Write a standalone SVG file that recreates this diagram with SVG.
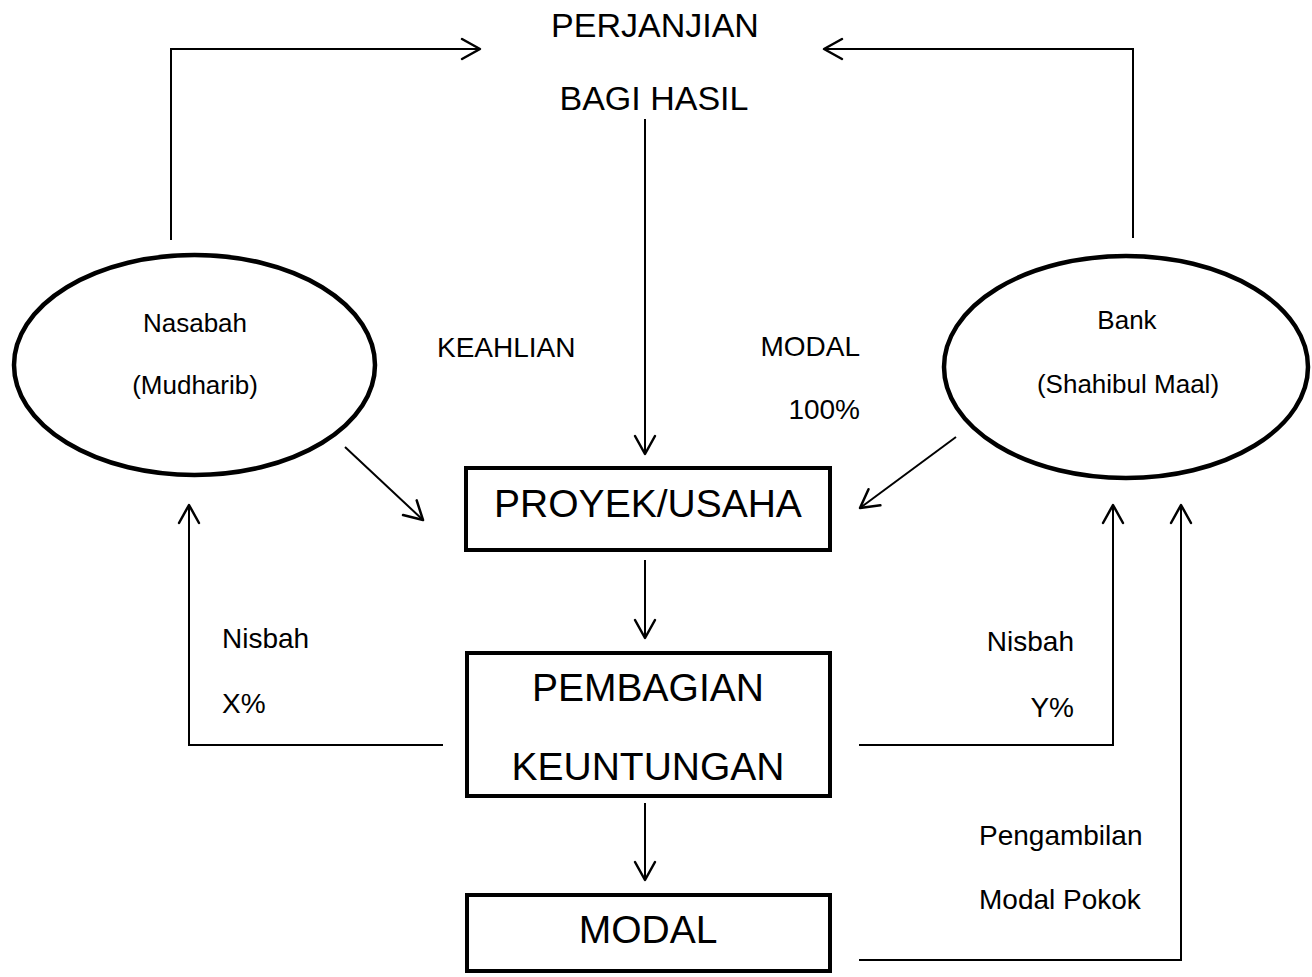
<svg xmlns="http://www.w3.org/2000/svg" width="1312" height="977" viewBox="0 0 1312 977">
<style>
text{font-family:"Liberation Sans",Arial,sans-serif;fill:#000}
.big{font-size:39px;text-anchor:middle}
.title{font-size:34px;text-anchor:middle}
.lbl{font-size:28px}
.ell{font-size:26px;text-anchor:middle}
.box{fill:#fff;stroke:#000;stroke-width:4}
.node-ell{fill:#fff;stroke:#000;stroke-width:4.5}
.con{fill:none;stroke:#000;stroke-width:2}
</style>
<defs>
<marker id="arr" markerUnits="userSpaceOnUse" markerWidth="22" markerHeight="24" viewBox="0 0 22 24" refX="20" refY="12" orient="auto">
<path d="M2,2 L20,12 L2,22" fill="none" stroke="#000" stroke-width="2.5" stroke-linecap="round" stroke-linejoin="round"/>
</marker>
</defs>
<rect width="1312" height="977" fill="#fff"/>
<g id="perjanjian">
<text class="title" x="655" y="37">PERJANJIAN</text>
<text class="title" x="654" y="110">BAGI HASIL</text>
</g>
<g id="nasabah">
<ellipse class="node-ell" cx="194.5" cy="365" rx="180.5" ry="110"/>
<text class="ell" x="195" y="332">Nasabah</text>
<text class="ell" x="195" y="394">(Mudharib)</text>
</g>
<g id="bank">
<ellipse class="node-ell" cx="1126" cy="367" rx="182" ry="111"/>
<text class="ell" x="1127" y="329">Bank</text>
<text class="ell" x="1128" y="393">(Shahibul Maal)</text>
</g>
<g id="proyek">
<rect class="box" x="466" y="468" width="364" height="82"/>
<text class="big" x="648" y="517">PROYEK/USAHA</text>
</g>
<g id="pembagian">
<rect class="box" x="467" y="653" width="363" height="143"/>
<text class="big" x="648" y="701">PEMBAGIAN</text>
<text class="big" x="648" y="780">KEUNTUNGAN</text>
</g>
<g id="modal">
<rect class="box" x="467" y="895" width="363" height="76"/>
<text class="big" x="648" y="943">MODAL</text>
</g>
<g id="connectors">
<path class="con" d="M171,240 V49 H480" marker-end="url(#arr)"/>
<path class="con" d="M1133,238 V49 H824" marker-end="url(#arr)"/>
<path class="con" d="M645,119 V454" marker-end="url(#arr)"/>
<path class="con" d="M345,447 L423,520" marker-end="url(#arr)"/>
<path class="con" d="M956,437 L860,508" marker-end="url(#arr)"/>
<path class="con" d="M645,560 V638" marker-end="url(#arr)"/>
<path class="con" d="M645,803 V880" marker-end="url(#arr)"/>
<path class="con" d="M443,745 H189 V505" marker-end="url(#arr)"/>
<path class="con" d="M859,745 H1113 V505" marker-end="url(#arr)"/>
<path class="con" d="M859,960 H1181 V505" marker-end="url(#arr)"/>
</g>
<g id="labels">
<text class="lbl" x="437" y="357">KEAHLIAN</text>
<text class="lbl" x="860" y="356" text-anchor="end">MODAL</text>
<text class="lbl" x="860" y="419" text-anchor="end">100%</text>
<text class="lbl" x="222" y="648">Nisbah</text>
<text class="lbl" x="222" y="713">X%</text>
<text class="lbl" x="1074" y="651" text-anchor="end">Nisbah</text>
<text class="lbl" x="1074" y="717" text-anchor="end">Y%</text>
<text class="lbl" x="979" y="845">Pengambilan</text>
<text class="lbl" x="979" y="909">Modal Pokok</text>
</g>
</svg>
